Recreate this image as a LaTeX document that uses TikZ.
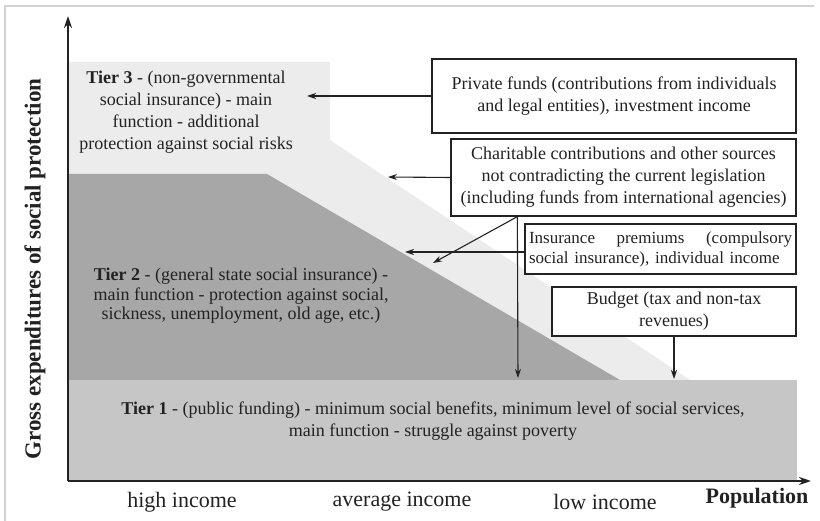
\documentclass[tikz,border=0pt]{standalone}
\usepackage{fontspec}
\setmainfont{Liberation Serif}
\usetikzlibrary{arrows.meta,calc}
\definecolor{tierone}{HTML}{C6C6C6}
\definecolor{tiertwo}{HTML}{A7A7A7}
\definecolor{tierthree}{HTML}{ECECEC}
\definecolor{ink}{HTML}{222222}
\definecolor{framecol}{HTML}{D2D2D2}
\begin{document}
\begin{tikzpicture}[x=1pt,y=-1pt,
  txt/.style={text=ink,font=\fontsize{18}{22}\selectfont,align=center,inner sep=0pt},
  srcbox/.style={draw=ink,line width=1.3pt,fill=white,text=ink,font=\fontsize{18}{22}\selectfont,align=center,inner sep=2pt},
  flow/.style={draw=ink,line width=1.1pt,-{Stealth[length=9pt,width=6pt]}},
  axis/.style={draw=ink,line width=2.4pt,-{Stealth[length=12pt,width=8pt]}},
  axlab/.style={text=ink,font=\fontsize{22}{26}\selectfont,inner sep=0pt}]
\useasboundingbox (0,0) rectangle (820,521);
\fill[white] (0,0) rectangle (820,521);
\draw[framecol,line width=2pt] (5,521) -- (5,6) -- (814,6);
% tiers
\fill[tierthree] (68,62) -- (330,62) -- (330,140) -- (690,380) -- (68,380) -- cycle;
\fill[tiertwo] (68,174) -- (267,174) -- (620,380) -- (68,380) -- cycle;
\fill[tierone] (68,380) rectangle (797,481);
% axes
\coordinate (O) at (68,481);
\coordinate (ytop) at (68,16);
\coordinate (xend) at (811,481);
\draw[axis] (O) -- (ytop);
\draw[axis] (O) -- (xend);
% tier texts
\node[txt] (t3) at (186,112) {\textbf{Tier 3} - (non-governmental\\social insurance) - main\\function - additional\\protection against social risks};
\node[txt,font=\fontsize{18}{19.5}\selectfont] (t2) at (241,296) {\textbf{Tier 2} - (general state social insurance) -\\main function - protection against social,\\sickness, unemployment, old age, etc.)};
\node[txt] (t1) at (433,421) {\textbf{Tier 1} - (public funding) - minimum social benefits, minimum level of social services,\\main function - struggle against poverty};
% source boxes
\node[srcbox,minimum width=364pt,minimum height=74pt] (priv) at (614,96) {Private funds (contributions from individuals\\and legal entities), investment income};
\node[srcbox,minimum width=345pt,minimum height=77pt] (char) at (623.5,177.5) {Charitable contributions and other sources\\not contradicting the current legislation\\(including funds from international agencies)};
\node[srcbox,minimum width=271pt,minimum height=50pt,text width=263pt,align=left,font=\fontsize{17}{20}\selectfont] (ins) at (660.5,249) {Insurance\hfill premiums\hfill (compulsory\\\mbox{social insurance), individual income}};
\node[srcbox,minimum width=244pt,minimum height=49pt] (bud) at (674,311.5) {Budget (tax and non-tax\\revenues)};
% arrow ends
\coordinate (a3) at (307,96);
\coordinate (c3) at (388,177);
\coordinate (c2) at (433,263);
\coordinate (c1) at (518,378);
\coordinate (i2) at (405,252);
\coordinate (b1) at (674,379);
\draw[flow] (priv.west) -- (a3);
\draw[flow] (char.west) -- (c3);
\draw[flow] ([xshift=67pt]char.south west) -- (c2);
\draw[flow] ([xshift=67pt]char.south west) -- (c1);
\draw[flow] ([yshift=-3pt]ins.west) -- (i2);
\draw[flow] (bud.south) -- (b1);
% axis labels
\node[axlab] (hi) at (182,502) {high income};
\node[axlab] (avg) at (402,502) {average income};
\node[axlab] (lo) at (605,502) {low income};
\node[axlab,font=\bfseries\fontsize{22}{26}\selectfont] (pop) at (757,498) {Population};
\node[axlab,rotate=90,font=\bfseries\fontsize{23}{26}\selectfont] (ylab) at (35,269) {Gross expenditures of social protection};
\end{tikzpicture}
\end{document}
